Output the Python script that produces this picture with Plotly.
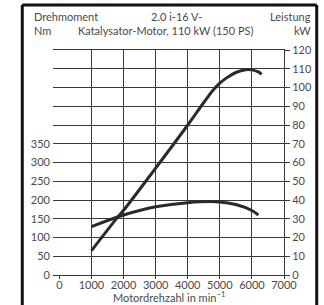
import plotly.graph_objects as go

rpm_power = [1000, 1823, 2000, 3000, 4000, 4500, 4800, 5000, 5200, 5500, 5800, 6000, 6200, 6300]
power_kw = [13, 31, 34.5, 57, 80, 92, 98.8, 102.3, 105, 108, 109.5, 109.4, 108.3, 107]

rpm_torque = [1000, 2000, 3000, 4000, 5000, 5500, 6000, 6200]
torque_nm = [129, 160, 182, 193, 195, 188, 172, 160]

x_ticks = [0, 1000, 2000, 3000, 4000, 5000, 6000, 7000]
x_grid = [1000, 2000, 3000, 4000, 5000, 6000, 7000]
nm_grid = list(range(0, 601, 50))
nm_labels = [str(v) if v <= 350 else "" for v in nm_grid]
kw_ticks = list(range(0, 121, 10))

FONT = "Lato"
INK = "#2a2a2a"
GRID = "#3a3a3a"
TXT = "#4a4a4a"

fig = go.Figure()
fig.add_trace(go.Scatter(x=rpm_torque, y=torque_nm, mode="lines",
                         line=dict(color=INK, width=3, shape="spline"),
                         yaxis="y", showlegend=False, hoverinfo="skip"))
fig.add_trace(go.Scatter(x=rpm_power, y=power_kw, mode="lines",
                         line=dict(color=INK, width=3, shape="spline"),
                         yaxis="y2", showlegend=False, hoverinfo="skip"))

L, R, T, B = 53, 38, 50, 30
W, H = 324, 305
pw = W - L - R
ph = H - T - B

def px(x):
    return (x - L) / pw

def py(y):
    return 1 - (y - T) / ph

border = dict(color="#111", width=3)
fig.update_layout(
    width=W, height=H,
    margin=dict(l=L, r=R, t=T, b=B),
    paper_bgcolor="white", plot_bgcolor="white",
    font=dict(family=FONT, size=11, color=TXT),
    xaxis=dict(range=[-200, 7000], tickvals=x_ticks, showgrid=False,
               ticks="outside", ticklen=3, tickcolor=GRID, zeroline=False,
               showline=True, mirror=True, linecolor=GRID, linewidth=1,
               ticklabelstandoff=-3,
               minor=dict(tickvals=x_grid, showgrid=True, gridcolor=GRID, gridwidth=1),
               tickfont=dict(size=11, color=TXT)),
    yaxis=dict(range=[0, 600], tickvals=nm_grid, ticktext=nm_labels,
               showgrid=True, gridcolor=GRID, gridwidth=1, zeroline=False,
               showline=False, ticks="", ticklabelstandoff=2,
               tickfont=dict(size=11, color=TXT)),
    yaxis2=dict(range=[0, 120], tickvals=kw_ticks, overlaying="y", side="right",
                showgrid=False, zeroline=False, showline=True, linecolor=GRID,
                linewidth=1, ticks="outside", ticklen=5, tickcolor=GRID,
                tickfont=dict(size=11, color=TXT)),
    shapes=[
        dict(type="line", xref="paper", yref="paper", x0=px(22), x1=px(22), y0=py(310), y1=py(5), line=border),
        dict(type="line", xref="paper", yref="paper", x0=px(319), x1=px(319), y0=py(310), y1=py(5), line=border),
        dict(type="line", xref="paper", yref="paper", x0=px(22), x1=px(319), y0=py(5), y1=py(5), line=border),
    ],
)

anns = [
    dict(text="Drehmoment", x=px(32), y=py(17), xanchor="left"),
    dict(text="Nm", x=px(32), y=py(30), xanchor="left"),
    dict(text="2.0 i-16 V-", x=px(178), y=py(17), xanchor="center"),
    dict(text="Katalysator-Motor, 110 kW (150 PS)", x=px(166), y=py(30), xanchor="center"),
    dict(text="Leistung", x=px(315), y=py(17), xanchor="right"),
    dict(text="kW", x=px(315), y=py(30), xanchor="right"),
    dict(text="Motordrehzahl in min<sup>−1</sup>", x=px(170), y=py(296), xanchor="center"),
]
for a in anns:
    fig.add_annotation(xref="paper", yref="paper", showarrow=False,
                       yanchor="middle", font=dict(family=FONT, size=11, color=TXT), **a)

fig.write_html("out.html", config={"displayModeBar": False, "staticPlot": True},
               post_script="document.body.style.margin='0';document.body.style.overflow='hidden';document.documentElement.style.overflow='hidden';")
